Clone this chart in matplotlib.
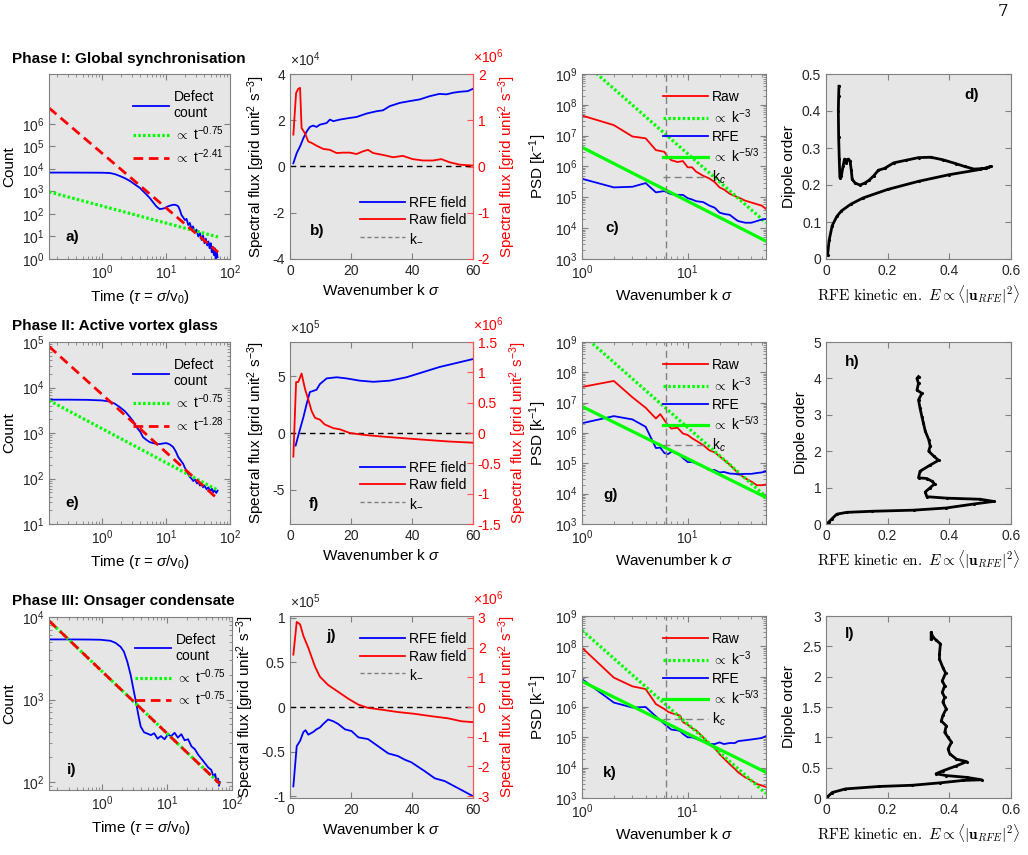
import numpy as np
import matplotlib.pyplot as plt
from matplotlib.lines import Line2D
from matplotlib.ticker import FuncFormatter, NullFormatter

plt.rcParams['font.family'] = ['Liberation Sans', 'DejaVu Sans']
plt.rcParams['mathtext.fontset'] = 'custom'
plt.rcParams['mathtext.rm'] = 'Liberation Sans'
plt.rcParams['mathtext.it'] = 'Liberation Sans:italic'
plt.rcParams['mathtext.bf'] = 'Liberation Sans:bold'
plt.rcParams['axes.unicode_minus'] = False

GREEN = '#00ff00'
BG = '#e6e6e6'
EDGE = '#808080'
K_CUT = 6.28

# ---------------- Phase I ----------------
a_time = [0.15, 0.3, 0.6, 1.0, 1.33, 1.6, 1.91, 2.3, 2.74, 3.3, 3.92, 4.7, 5.6, 6.3, 7.1,
          8.0, 8.8, 9.6, 10.5, 11.5, 12.6, 13.8, 14.7, 15.6, 16.5, 17.5, 18.6, 19.8, 21,
          22.3, 23.6, 25, 26.5, 28, 30, 32, 34, 36, 38, 40, 42, 44, 46, 48, 50, 52, 54,
          56, 58, 60, 62, 64]
a_count = [6800, 6800, 6750, 6700, 6500, 5800, 4800, 3800, 2900, 2000, 1430, 850, 510,
           330, 215, 163, 170, 180, 210, 230, 250, 255, 240, 215, 150, 90, 70, 53, 60, 32,
           40, 22, 28, 16, 20, 10, 14, 7, 11, 5, 8, 4, 6, 3, 5, 2, 3.5, 1.5, 3, 0.8, 2, 1.2]
a_fit_time = [0.15, 65]
a_fit_green = [950, 9.5]
a_fit_red = [5e6, 2.0]

b_k_rfe = [1.1, 2.2, 3.3, 4.4, 5.5, 6.5, 7.6, 8.7, 9.8, 12, 13.1, 14.2, 16.4, 19.6, 21.8,
           25.1, 28.4, 30.5, 32.7, 36, 39.3, 42.5, 45.8, 49, 51.3, 53.5, 55.6, 58.3, 60]
b_rfe = np.array([0.14, 0.58, 0.87, 1.23, 1.52, 1.71, 1.77, 1.71, 1.81, 1.88, 2.03, 1.96,
                  2.03, 2.1, 2.14, 2.29, 2.39, 2.43, 2.61, 2.75, 2.83, 2.9, 3.04, 3.14,
                  3.12, 3.19, 3.23, 3.26, 3.36]) * 1e4
b_k_raw = [1.1, 2.0, 2.7, 3.3, 3.8, 4.9, 6.0, 7.1, 8.7, 10.9, 13.1, 15.3, 17.4, 19.6, 21.8,
           24.0, 25.6, 27.3, 30.5, 33.8, 37.0, 40.2, 43.6, 46.9, 49.6, 52.4, 55.6, 60]
b_raw = np.array([0.69, 1.59, 1.68, 1.7, 0.83, 0.72, 0.54, 0.51, 0.45, 0.38, 0.36, 0.29,
                  0.3, 0.3, 0.27, 0.33, 0.36, 0.29, 0.25, 0.2, 0.23, 0.16, 0.13, 0.13,
                  0.16, 0.09, 0.04, 0.02]) * 1e6

c_k = [1, 2, 3, 4, 5, 6, 6.5, 7, 8, 9, 10, 11, 12, 14, 16, 18, 20, 22, 25, 28, 30, 35, 40,
       45, 50, 55]
c_raw = [4.5e7, 2.2e7, 9.4e6, 8.2e6, 3.4e6, 3e6, 2e6, 1.6e6, 1.4e6, 1.5e6, 9.4e5, 9.4e5,
         6.8e5, 5e5, 4.1e5, 3.1e5, 2.1e5, 1.8e5, 1.3e5, 1.1e5, 1e5, 7.8e4, 6.8e4, 6e4,
         5.4e4, 4.2e4]
c_rfe = [4e5, 2.1e5, 2.2e5, 2.9e5, 1.45e5, 1.6e5, 1.4e5, 1.27e5, 1.2e5, 1.2e5, 9.4e4,
         8.5e4, 7.5e4, 7e4, 5.4e4, 4.6e4, 3.2e4, 2.9e4, 2.7e4, 2e4, 1.7e4, 1.5e4, 1.5e4,
         1.7e4, 1.9e4, 2e4]
c_fit_k = [1, 55]
c_fit3 = [2.7e9, 1.5e4]
c_fit53 = [4.2e6, 3.8e3]

d_energy = [0.005, 0.01, 0.02, 0.035, 0.05, 0.08, 0.12, 0.2, 0.3, 0.4, 0.5, 0.535, 0.52,
            0.48, 0.45, 0.42, 0.38, 0.34, 0.3, 0.26, 0.22, 0.19, 0.17, 0.155, 0.14, 0.125,
            0.11, 0.095, 0.085, 0.082, 0.078, 0.072, 0.066, 0.06, 0.055, 0.05, 0.045,
            0.043, 0.041, 0.04, 0.041, 0.042]
d_dipole = [0.01, 0.05, 0.09, 0.115, 0.13, 0.148, 0.165, 0.188, 0.21, 0.228, 0.242, 0.25,
            0.245, 0.243, 0.25, 0.258, 0.268, 0.275, 0.274, 0.267, 0.26, 0.245, 0.24,
            0.225, 0.213, 0.205, 0.2, 0.205, 0.215, 0.24, 0.265, 0.27, 0.26, 0.27, 0.25,
            0.225, 0.22, 0.27, 0.33, 0.4, 0.44, 0.467]

# ---------------- Phase II ----------------
e_time = [0.15, 0.3, 0.6, 1.0, 1.33, 1.6, 1.91, 2.3, 2.74, 3.1, 3.48, 4.0, 4.4, 5.0, 5.6,
          6.3, 7.1, 8.0, 9.1, 10.2, 11.5, 13, 14.3, 15.6, 17, 18.6, 19.8, 21, 22.3, 23.7,
          25, 26.7, 28.5, 30.5, 32, 34, 36, 38, 40, 43, 46, 49, 52, 55, 58, 61, 64]
e_count = [5400, 5400, 5350, 5200, 4900, 4400, 3700, 3000, 2250, 1800, 1350, 1050, 810,
           700, 630, 600, 580, 570, 590, 600, 560, 490, 390, 295, 250, 210, 170, 150,
           125, 107, 100, 88, 95, 78, 85, 70, 76, 64, 70, 58, 64, 52, 60, 50, 56, 48, 54]
e_fit_time = [0.15, 65]
e_fit_green = [5200, 55]
e_fit_red = [8e4, 35]

f_k_rfe = [1.85, 3, 4.4, 5.5, 6.5, 7.6, 8.7, 9.8, 12, 15.3, 18.5, 22.9, 27.3, 32.7, 38.2,
           43.6, 49, 54.5, 60]
f_rfe = np.array([-1.1, 0.06, 1.4, 2.6, 3.6, 3.7, 3.8, 4.3, 4.8, 4.9, 4.8, 4.6, 4.5, 4.6,
                  4.9, 5.35, 5.8, 6.15, 6.5]) * 1e5
f_k_raw = [1.1, 2, 2.7, 3.8, 4.9, 6, 7.1, 8.2, 9.8, 11.4, 14.2, 16.4, 19.6, 24, 30.5, 37,
           43.6, 52, 60]
f_raw = np.array([-0.39, 0.84, 0.84, 0.98, 0.73, 0.55, 0.36, 0.25, 0.22, 0.14, 0.08, 0.06,
                  0.0, -0.03, -0.06, -0.085, -0.11, -0.14, -0.16]) * 1e6

g_k = [1, 2, 3, 4, 5, 5.5, 6, 6.5, 7, 8, 9, 10, 11, 12, 14, 16, 18, 20, 22, 25, 28, 30, 35,
       40, 45, 50, 55]
g_raw = [3.3e7, 5.2e7, 1.5e7, 6.8e6, 3e6, 4.2e6, 2.7e6, 1.8e6, 1.4e6, 1.5e6, 9.6e5, 8.6e5,
         6.7e5, 5.6e5, 4e5, 2.7e5, 2.3e5, 1.7e5, 1.3e5, 9e4, 6e4, 4.7e4, 3.2e4, 2.5e4,
         1.9e4, 1.9e4, 2e4]
g_rfe = [2.1e6, 3.6e6, 2.8e6, 1.6e6, 3.2e5, 3.3e5, 2.2e5, 2e5, 2.4e5, 2.2e5, 1.5e5, 1.1e5,
         1.1e5, 1e5, 8e4, 6e4, 6e4, 5e4, 5.2e4, 4.6e4, 4.5e4, 4.3e4, 4.5e4, 4.5e4, 4.8e4,
         5e4, 5.5e4]
g_fit_k = [1, 55]
g_fit3 = [1.8e9, 8e3]
g_fit53 = [7.5e6, 7.5e3]

h_energy = [0.003, 0.01, 0.02, 0.035, 0.067, 0.15, 0.284, 0.39, 0.48, 0.544, 0.5, 0.392,
            0.327, 0.322, 0.338, 0.352, 0.345, 0.327, 0.3, 0.305, 0.338, 0.365, 0.35,
            0.333, 0.338, 0.333, 0.322, 0.316, 0.311, 0.305, 0.3, 0.311, 0.295, 0.3,
            0.295, 0.3]
h_dipole = [0.01, 0.06, 0.15, 0.27, 0.32, 0.35, 0.38, 0.44, 0.55, 0.62, 0.68, 0.71, 0.75,
            0.88, 1.0, 1.1, 1.17, 1.25, 1.27, 1.45, 1.62, 1.75, 1.86, 2.0, 2.14, 2.32,
            2.55, 2.77, 2.95, 3.18, 3.41, 3.59, 3.68, 3.86, 4.0, 4.05]

# ---------------- Phase III ----------------
i_time = [0.15, 0.3, 0.6, 0.93, 1.33, 1.6, 1.91, 2.15, 2.43, 2.74, 3.0, 3.3, 3.6, 3.9, 4.4,
          5.0, 5.6, 6.3, 7.1, 8.0, 9.1, 10.2, 11.5, 13, 14.6, 16.5, 18.6, 21, 23.7, 26.7,
          30, 34, 38, 43, 48, 52, 55, 58, 61, 63, 65]
i_count = [5350, 5350, 5330, 5300, 5150, 4850, 4350, 3800, 2850, 1960, 1350, 930, 640,
           470, 400, 385, 370, 390, 335, 360, 330, 375, 360, 395, 345, 380, 320, 330, 270,
           250, 215, 190, 170, 150, 140, 115, 125, 100, 110, 90, 100]
i_fit_time = [0.15, 65]
i_fit_green = [9000, 95]
i_fit_red = [9000, 95]

j_k_rfe = [1.1, 2.2, 3.3, 4.4, 5.1, 6, 7.6, 8.7, 9.8, 10.9, 12.5, 14.2, 15.8, 18, 20.2,
           22.4, 25.6, 28.9, 32.2, 35.4, 37.6, 39.8, 42, 44.2, 47.5, 50.7, 54, 57.3, 60]
j_rfe = np.array([-0.89, -0.44, -0.38, -0.28, -0.26, -0.31, -0.28, -0.25, -0.23, -0.19,
                  -0.14, -0.16, -0.19, -0.25, -0.27, -0.34, -0.36, -0.44, -0.52, -0.55,
                  -0.59, -0.62, -0.67, -0.72, -0.8, -0.83, -0.89, -0.95, -1.0]) * 1e5
j_k_raw = [1.1, 2.2, 3.3, 4.4, 6, 8.2, 9.8, 12.5, 15.8, 19.1, 22.4, 25.6, 30, 35.4, 40.9,
           46.4, 51.8, 56.2, 60]
j_raw = np.array([1.76, 2.86, 2.78, 2.39, 1.99, 1.36, 1.02, 0.74, 0.51, 0.28, 0.08, -0.03,
                  -0.09, -0.17, -0.23, -0.31, -0.38, -0.48, -0.51]) * 1e6

k_k = [1, 2, 3, 4, 5, 6, 6.5, 7, 8, 8.5, 9, 10, 11, 12, 14, 16, 18, 20, 22, 25, 28, 30, 35,
       40, 45, 50, 55]
k_raw = [9e7, 9.3e6, 4.8e6, 3.9e6, 1.25e6, 8.6e5, 7e5, 6.3e5, 5.5e5, 5.2e5, 3.2e5, 2.6e5,
         2e5, 1.7e5, 1e5, 6e4, 4.4e4, 2.8e4, 2e4, 1.3e4, 9e3, 7e3, 4.8e3, 3.8e3, 2.9e3,
         2.6e3, 2.3e3]
k_rfe = [8.3e6, 1.4e6, 9.6e5, 1e6, 4.9e5, 2.8e5, 2.2e5, 1.8e5, 1.7e5, 1.6e5, 1.3e5, 1e5,
         1e5, 9e4, 7.3e4, 6e4, 6e4, 6.8e4, 6e4, 6.5e4, 6.5e4, 7.5e4, 8e4, 8.5e4, 9e4,
         9.5e4, 1.1e5]
k_fit_k = [1, 55]
k_fit3 = [3.4e8, 1.4e3]
k_fit53 = [7e6, 7e3]

l_energy = [0.003, 0.02, 0.063, 0.172, 0.28, 0.37, 0.445, 0.505, 0.456, 0.39, 0.357, 0.38,
            0.423, 0.456, 0.423, 0.401, 0.396, 0.407, 0.396, 0.385, 0.39, 0.374, 0.379,
            0.39, 0.379, 0.385, 0.377, 0.385, 0.377, 0.388, 0.379, 0.368, 0.368, 0.371,
            0.358, 0.347, 0.341, 0.341]
l_dipole = [0.01, 0.09, 0.15, 0.19, 0.21, 0.25, 0.29, 0.3, 0.34, 0.37, 0.4, 0.45, 0.53,
            0.6, 0.64, 0.73, 0.81, 0.92, 1.0, 1.08, 1.19, 1.27, 1.36, 1.47, 1.58, 1.66,
            1.74, 1.85, 1.93, 2.06, 2.15, 2.29, 2.37, 2.54, 2.6, 2.65, 2.73, 2.62]


def make_axes(fig, left, top, right, bottom):
    W, H = 1028, 855
    return fig.add_axes([left / W, 1 - bottom / H, (right - left) / W, (bottom - top) / H])


def plain(scale=1.0):
    # MATLAB-like tick labels: 0, 0.5, 1 instead of 0.0, 0.5, 1.0
    return FuncFormatter(lambda v, p: f'{round(v / scale, 6):g}'.replace('-0', '-0')
                         if round(v / scale, 6) != 0 else '0')


def style(ax, right=True):
    ax.set_facecolor(BG)
    for sp in ax.spines.values():
        sp.set_color(EDGE)
        sp.set_linewidth(0.8)
    ax.tick_params(which='both', direction='in', top=True, right=right,
                   color=EDGE, labelcolor='#262626', labelsize=10)
    ax.tick_params(which='major', length=4)
    ax.tick_params(which='minor', length=2)


def tag(ax, text, x, y):
    ax.text(x, y, text, transform=ax.transAxes, fontsize=11, fontweight='bold',
            ha='left', va='center', zorder=10)


def plot_count(ax, t, n, fit_t, fit_green, fit_red, red_label, ylim, yticks, label, xy):
    style(ax)
    ax.loglog(t, n, color='blue', lw=1.3, label='Defect\ncount')
    ax.loglog(fit_t, fit_green, color=GREEN, ls=(0, (0.8, 0.7)), lw=2.3,
              label=r'$\propto$ t$^{-0.75}$')
    ax.loglog(fit_t, fit_red, color='red', ls=(0, (3.5, 2)), lw=2.0, label=red_label)
    ax.set_xlim(0.15, 100)
    ax.set_ylim(*ylim)
    ax.set_xticks([1, 10, 100])
    ax.set_yticks(yticks)
    ax.yaxis.set_minor_formatter(NullFormatter())
    ax.xaxis.set_minor_formatter(NullFormatter())
    ax.set_ylabel('Count', fontsize=11)
    ax.set_xlabel(r'Time ($\tau$ = $\sigma$/v$_0$)', fontsize=11)
    ax.legend(loc='upper right', bbox_to_anchor=(1.0, 0.95), frameon=False, fontsize=10,
              handlelength=2.6, labelspacing=0.3, borderaxespad=0.1, handletextpad=0.3)
    tag(ax, label, *xy)


def plot_flux(ax, k_rfe, rfe, k_raw, raw, left, right, leg_loc, leg_anchor, label, xy):
    lscale, lexp, llim, lticks = left
    rscale, rexp, rlim, rticks = right
    style(ax, right=False)
    ax2 = ax.twinx()
    ax.plot(k_rfe, rfe, color='blue', lw=1.3)
    ax.axhline(0, color='k', ls=(0, (4, 3)), lw=1)
    ax2.plot(k_raw, raw, color='red', lw=1.3)
    ax.set_xlim(0, 60)
    ax.set_xticks([0, 20, 40, 60])
    ax.set_ylim(*llim)
    ax.set_yticks(lticks)
    ax2.set_ylim(*rlim)
    ax2.set_yticks(rticks)
    ax.yaxis.set_major_formatter(plain(lscale))
    ax2.yaxis.set_major_formatter(plain(rscale))
    for name in ['left', 'top', 'bottom']:
        ax2.spines[name].set_visible(False)
    ax2.spines['right'].set_color('#ff5050')
    ax2.tick_params(axis='y', direction='in', length=4, color='#ff5050',
                    labelcolor='red', labelsize=10)
    ax.text(0, 1.025, '×10$^{%d}$' % lexp, transform=ax.transAxes, ha='left',
            va='bottom', fontsize=10, color='#262626')
    ax.text(1.0, 1.045, '×10$^{%d}$' % rexp, transform=ax.transAxes, ha='left',
            va='bottom', fontsize=10, color='red')
    flux_label = r'Spectral flux [grid unit$^2$ s$^{-3}$]'
    ax.set_ylabel(flux_label, fontsize=11)
    ax2.set_ylabel(flux_label, fontsize=11, color='red')
    ax.set_xlabel(r'Wavenumber k $\sigma$', fontsize=11)
    handles = [Line2D([], [], color='blue', lw=1.3), Line2D([], [], color='red', lw=1.3),
               Line2D([], [], color='grey', ls=(0, (3, 2)), lw=1)]
    ax2.legend(handles, ['RFE field', 'Raw field', 'k$_{-}$'], loc=leg_loc,
               bbox_to_anchor=leg_anchor, frameon=False, fontsize=10, handlelength=3.2,
               labelspacing=0.25, handletextpad=0.3, borderaxespad=0.1)
    tag(ax2, label, *xy)


def plot_psd(ax, k, raw, rfe, fit_k, fit3, fit53, label, xy):
    style(ax)
    ax.loglog(k, raw, color='red', lw=1.3, label='Raw')
    ax.loglog(fit_k, fit3, color=GREEN, ls=(0, (0.8, 0.7)), lw=2.3,
              label=r'$\propto$ k$^{-3}$')
    ax.loglog(k, rfe, color='blue', lw=1.3, label='RFE')
    ax.loglog(fit_k, fit53, color=GREEN, lw=2.3, label=r'$\propto$ k$^{-5/3}$')
    ax.axvline(K_CUT, color='grey', ls=(0, (5, 3)), lw=1, label='k$_c$')
    ax.set_xlim(1, 55)
    ax.set_ylim(1e3, 1e9)
    ax.set_xticks([1, 10])
    ax.set_yticks([1e3, 1e4, 1e5, 1e6, 1e7, 1e8, 1e9])
    ax.xaxis.set_minor_formatter(NullFormatter())
    ax.yaxis.set_minor_formatter(NullFormatter())
    ax.set_ylabel('PSD [k$^{-1}$]', fontsize=11)
    ax.set_xlabel(r'Wavenumber k $\sigma$', fontsize=11)
    ax.legend(loc='upper right', bbox_to_anchor=(1.0, 0.95), frameon=False, fontsize=10,
              handlelength=3.2, labelspacing=0.25, handletextpad=0.3, borderaxespad=0.1)
    tag(ax, label, *xy)


def plot_dipole(ax, energy, dipole, ylim, yticks, label, xy):
    style(ax)
    ax.plot(energy, dipole, color='k', lw=2, marker='.', ms=2.5)
    ax.set_xlim(0, 0.6)
    ax.set_ylim(*ylim)
    ax.set_xticks([0, 0.2, 0.4, 0.6])
    ax.set_yticks(yticks)
    ax.xaxis.set_major_formatter(plain())
    ax.yaxis.set_major_formatter(plain())
    ax.set_ylabel('Dipole order', fontsize=11)
    ax.set_xlabel(r'$\mathrm{RFE\ kinetic\ en.}\ E \propto \langle|\mathbf{u}_{RFE}|^2\rangle$',
                  fontsize=11, math_fontfamily='cm')
    tag(ax, label, *xy)


def main():
    fig = plt.figure(figsize=(10.28, 8.55), dpi=100)
    cols = [(49, 230), (290, 473), (582, 766), (826, 1011)]
    rows = [(74, 259), (342, 524), (616, 798)]

    def box(r, c):
        return make_axes(fig, cols[c][0], rows[r][0], cols[c][1], rows[r][1])

    # Row 1
    plot_count(box(0, 0), a_time, a_count, a_fit_time, a_fit_green, a_fit_red,
               r'$\propto$ t$^{-2.41}$', (1, 1.6e8), [1e0, 1e1, 1e2, 1e3, 1e4, 1e5, 1e6],
               'a)', (0.09, 0.12))
    plot_flux(box(0, 1), b_k_rfe, b_rfe, b_k_raw, b_raw,
              (1e4, 4, (-4e4, 4e4), [-4e4, -2e4, 0, 2e4, 4e4]),
              (1e6, 6, (-2e6, 2e6), [-2e6, -1e6, 0, 1e6, 2e6]),
              'lower right', (1.0, 0.04), 'b)', (0.11, 0.15))
    plot_psd(box(0, 2), c_k, c_raw, c_rfe, c_fit_k, c_fit3, c_fit53, 'c)', (0.125, 0.17))
    plot_dipole(box(0, 3), d_energy, d_dipole, (0, 0.5), [0, 0.1, 0.2, 0.3, 0.4, 0.5],
                'd)', (0.75, 0.885))

    # Row 2
    plot_count(box(1, 0), e_time, e_count, e_fit_time, e_fit_green, e_fit_red,
               r'$\propto$ t$^{-1.28}$', (10, 1e5), [1e1, 1e2, 1e3, 1e4, 1e5],
               'e)', (0.09, 0.115))
    plot_flux(box(1, 1), f_k_rfe, f_rfe, f_k_raw, f_raw,
              (1e5, 5, (-8e5, 8e5), [-5e5, 0, 5e5]),
              (1e6, 6, (-1.5e6, 1.5e6), [-1.5e6, -1e6, -0.5e6, 0, 0.5e6, 1e6, 1.5e6]),
              'lower right', (1.0, 0.04), 'f)', (0.1, 0.11))
    plot_psd(box(1, 2), g_k, g_raw, g_rfe, g_fit_k, g_fit3, g_fit53, 'g)', (0.115, 0.16))
    plot_dipole(box(1, 3), h_energy, h_dipole, (0, 5), [0, 1, 2, 3, 4, 5], 'h)',
                (0.1, 0.89))

    # Row 3
    ax_i = make_axes(fig, 49, 617, 232, 790)
    plot_count(ax_i, i_time, i_count, i_fit_time, i_fit_green, i_fit_red,
               r'$\propto$ t$^{-0.75}$', (80, 1e4), [1e2, 1e3, 1e4], 'i)', (0.1, 0.115))
    plot_flux(box(2, 1), j_k_rfe, j_rfe, j_k_raw, j_raw,
              (1e5, 5, (-1.02e5, 1.02e5), [-1e5, -0.5e5, 0, 0.5e5, 1e5]),
              (1e6, 6, (-3.06e6, 3.06e6), [-3e6, -2e6, -1e6, 0, 1e6, 2e6, 3e6]),
              'upper right', (1.0, 0.95), 'j)', (0.2, 0.89))
    plot_psd(box(2, 2), k_k, k_raw, k_rfe, k_fit_k, k_fit3, k_fit53, 'k)', (0.115, 0.14))
    plot_dipole(box(2, 3), l_energy, l_dipole, (0, 3),
                [0, 0.5, 1, 1.5, 2, 2.5, 3], 'l)', (0.1, 0.9))

    # Phase titles and page number
    fig.text(12 / 1028, 1 - 59 / 855, 'Phase I: Global synchronisation', fontsize=11,
             fontweight='bold', va='center')
    fig.text(12 / 1028, 1 - 326 / 855, 'Phase II: Active vortex glass', fontsize=11,
             fontweight='bold', va='center')
    fig.text(12 / 1028, 1 - 601 / 855, 'Phase III: Onsager condensate', fontsize=11,
             fontweight='bold', va='center')
    fig.text(1003 / 1028, 1 - 12 / 855, '7', fontsize=12, family='DejaVu Serif',
             va='center', ha='center')

    fig.savefig('out.png', dpi=100, facecolor='white')


if __name__ == '__main__':
    main()
